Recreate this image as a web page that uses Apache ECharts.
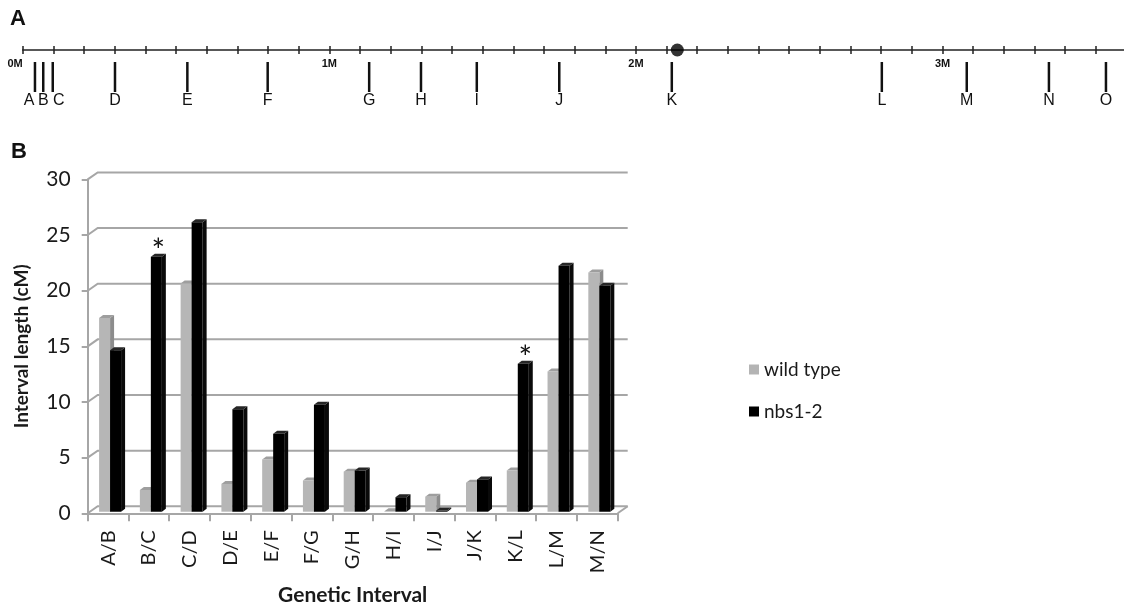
<!DOCTYPE html>
<html>
<head>
<meta charset="utf-8">
<script src="https://cdn.jsdelivr.net/npm/echarts@6/dist/echarts.min.js"></script>
<style>html,body{margin:0;padding:0;background:#fff}#c{width:1124px;height:606px}</style>
</head>
<body>
<div id="c"></div>
<script>
// ---- Panel A: physical map (positions in Mb) ----
const markerNames = ['A','B','C','D','E','F','G','H','I','J','K','L','M','N','O'];
const markerPos = [0.040,0.067,0.098,0.301,0.537,0.799,1.130,1.299,1.481,1.750,2.117,2.802,3.079,3.347,3.533];
const centromerePos = [2.135];

// ---- Panel B: interval lengths (cM) ----
const intervals = ['A/B','B/C','C/D','D/E','E/F','F/G','G/H','H/I','I/J','J/K','K/L','L/M','M/N'];
const wildType = [17.4,1.95,20.5,2.5,4.7,2.8,3.6,0.05,1.35,2.6,3.7,12.6,21.5];
const nbs12 = [14.5,22.9,26.0,9.2,7.0,9.6,3.7,1.3,0.1,2.9,13.3,22.1,20.3];
const significant = [0,1,0,0,0,0,0,0,0,0,1,0,0];
const yTicks = [0,5,10,15,20,25,30];

const GRID_GRAY = '#a6a6a6';
const TXT = '#1a1a1a';
// small horizontal nudges so crowded marker letters do not collide (style only)
const LABEL_NUDGE = {A: -6, C: 6};

function bar3d(x0off, x1off, cFront, cSide, cTop, withStar) {
  return function (params, api) {
    const i = api.value(0), v = api.value(1);
    const base = api.coord([i, 0]);
    const top = api.coord([i, v]);
    const c = base[0];
    const lift = 1.6;
    const yb = base[1] - lift, yt = top[1] - lift;
    const xa = c + x0off, xb = c + x1off;
    const dx = 4, dy = 3;
    const children = [
      {type: 'polygon', shape: {points: [[xb, yb], [xb, yt], [xb + dx, yt - dy], [xb + dx, yb - dy]]}, style: {fill: cSide}},
      {type: 'polygon', shape: {points: [[xa, yt], [xb, yt], [xb + dx, yt - dy], [xa + dx, yt - dy]]}, style: {fill: cTop}},
      {type: 'rect', shape: {x: xa, y: yt, width: xb - xa, height: Math.max(0, yb - yt)}, style: {fill: cFront}}
    ];
    if (withStar && significant[params.dataIndex]) {
      children.push({type: 'text', style: {text: '*', x: (xa + xb) / 2 + 2, y: yt - 5, align: 'center', verticalAlign: 'middle', font: '32px Lato', fill: '#111'}});
    }
    return {type: 'group', children: children};
  };
}

const chart = echarts.init(document.getElementById('c'), null, {renderer: 'canvas'});
const option = {
  backgroundColor: '#fff',
  animation: false,
  title: [
    {text: 'A', left: 10, top: 8, padding: 0, textStyle: {fontFamily: 'Liberation Sans', fontWeight: 'bold', fontSize: 22, color: '#111'}},
    {text: 'B', left: 11, top: 141, padding: 0, textStyle: {fontFamily: 'Liberation Sans', fontWeight: 'bold', fontSize: 22, color: '#111'}}
  ],
  legend: {
    data: ['wild type', 'nbs1-2'],
    orient: 'vertical',
    left: 749, top: 360,
    icon: 'rect', itemWidth: 10, itemHeight: 10, itemGap: 23,
    padding: 0,
    textStyle: {fontFamily: 'Lato', fontSize: 19, color: TXT}
  },
  grid: [
    {left: 22.7, width: 1103.8, top: 50, height: 50, outerBoundsMode: 'none', containLabel: false},
    {left: 87.7, width: 530, top: 179.4, height: 333.9, outerBoundsMode: 'none', containLabel: false}
  ],
  xAxis: [
    {type: 'value', gridIndex: 0, position: 'top', min: 0, max: 3.6, interval: 0.1,
     axisLine: {show: true, onZero: false, lineStyle: {color: '#222', width: 1.5}},
     axisTick: {show: true, length: 4, lineStyle: {color: '#222', width: 1.5}},
     axisLabel: {show: false}, splitLine: {show: false}},
    {type: 'value', gridIndex: 0, position: 'bottom', offset: -50, min: 0, max: 3.6, interval: 0.1,
     axisLine: {show: false, onZero: false},
     axisTick: {show: true, length: 4, lineStyle: {color: '#222', width: 1.5}},
     axisLabel: {show: true, margin: 8, fontFamily: 'Liberation Sans', fontWeight: 'bold', fontSize: 11, color: '#111',
       alignMinLabel: 'right',
       formatter: function (v) { return Math.abs(v - Math.round(v)) < 1e-6 ? Math.round(v) + 'M' : ''; }},
     splitLine: {show: false}},
    {type: 'category', gridIndex: 1, data: intervals,
     axisLine: {show: true, onZero: false, lineStyle: {color: GRID_GRAY, width: 2}},
     axisTick: {show: true, length: 8, lineStyle: {color: GRID_GRAY, width: 2}},
     axisLabel: {interval: 0, rotate: 90, margin: 17, fontFamily: 'Lato', fontSize: 20, color: TXT},
     name: 'Genetic Interval', nameLocation: 'middle', nameGap: 71,
     nameTextStyle: {fontFamily: 'Lato', fontWeight: 'bold', fontSize: 21, color: TXT}}
  ],
  yAxis: [
    {type: 'value', gridIndex: 0, min: 0, max: 1, show: false},
    {type: 'value', gridIndex: 1, min: 0, max: 30, interval: 5,
     axisLine: {show: true, lineStyle: {color: GRID_GRAY, width: 2}},
     axisTick: {show: true, length: 6, lineStyle: {color: GRID_GRAY, width: 2}},
     axisLabel: {margin: 17, fontFamily: 'Lato', fontSize: 21, color: TXT},
     splitLine: {show: false},
     name: 'Interval length (cM)', nameLocation: 'middle', nameGap: 56,
     nameTextStyle: {fontFamily: 'Lato', fontWeight: 'bold', fontSize: 19, color: TXT}}
  ],
  series: [
    {
      type: 'custom', name: 'markers', xAxisIndex: 0, yAxisIndex: 0, silent: true, clip: false,
      data: markerPos.map(function (p) { return [p]; }),
      renderItem: function (params, api) {
        const p = api.coord([api.value(0), 1]);
        const x = p[0], y0 = p[1];
        const name = markerNames[params.dataIndex];
        return {type: 'group', children: [
          {type: 'line', shape: {x1: x, y1: y0 + 12, x2: x, y2: y0 + 42}, style: {stroke: '#111', lineWidth: 2.5}},
          {type: 'text', style: {text: name, x: x + (LABEL_NUDGE[name] || 0), y: y0 + 51, align: 'center', verticalAlign: 'middle',
            font: '16px "Liberation Sans"', fill: '#111'}}
        ]};
      }
    },
    {
      type: 'scatter', name: 'centromere', xAxisIndex: 0, yAxisIndex: 0, silent: true,
      symbol: 'circle', symbolSize: 13, itemStyle: {color: '#000'},
      data: centromerePos.map(function (p) { return [p, 1]; }), z: 5
    },
    {
      type: 'custom', name: 'walls', xAxisIndex: 2, yAxisIndex: 1, silent: true, clip: false,
      data: yTicks.map(function (v) { return [0, v]; }),
      renderItem: function (params, api) {
        const v = api.value(1);
        const y = api.coord([0, v])[1];
        const cs = params.coordSys;
        const x0 = cs.x, x1 = cs.x + cs.width;
        const children = [{type: 'polyline', shape: {points: [[x0, y], [x0 + 10, y - 7], [x1 + 10, y - 7]]},
          style: {stroke: GRID_GRAY, lineWidth: 2, fill: null}}];
        if (v === 0) {
          children.push({type: 'line', shape: {x1: x1, y1: y, x2: x1 + 10, y2: y - 7}, style: {stroke: GRID_GRAY, lineWidth: 2}});
        }
        return {type: 'group', children: children};
      }
    },
    {
      type: 'custom', name: 'wild type', xAxisIndex: 2, yAxisIndex: 1, clip: false,
      itemStyle: {color: '#b4b4b4'},
      data: wildType.map(function (v, i) { return [i, v]; }),
      renderItem: bar3d(-9, 2, '#b6b6b6', '#8c8c8c', '#9e9e9e', false)
    },
    {
      type: 'custom', name: 'nbs1-2', xAxisIndex: 2, yAxisIndex: 1, clip: false,
      itemStyle: {color: '#000'},
      data: nbs12.map(function (v, i) { return [i, v]; }),
      renderItem: bar3d(2, 13, '#000000', '#0a0a0a', '#262626', true)
    }
  ]
};
chart.setOption(option);
</script>
</body>
</html>
